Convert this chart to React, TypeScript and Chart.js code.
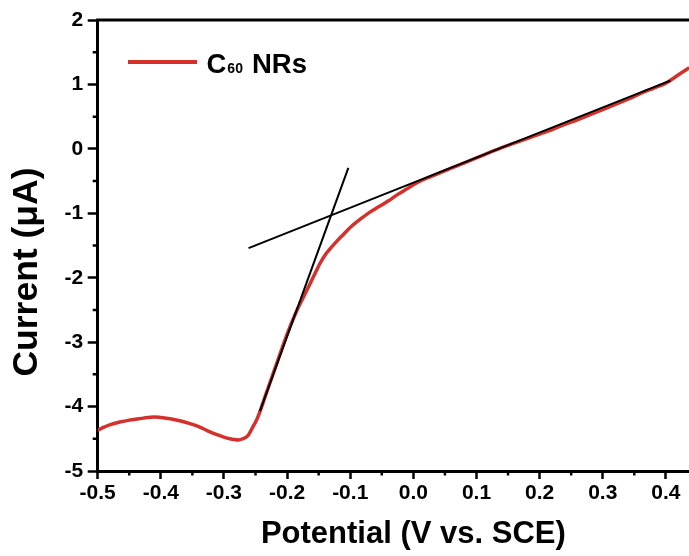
import React, { useEffect, useRef } from 'react';
import { Chart, registerables } from 'chart.js';

Chart.register(...registerables);

// Measured curve (Potential in V vs. SCE, Current in µA)
const potential = [
  -0.5, -0.49, -0.48, -0.465, -0.45, -0.435, -0.42, -0.41, -0.4, -0.385, -0.37, -0.355, -0.34, -0.325,
  -0.31, -0.295, -0.285, -0.277, -0.27, -0.262, -0.255, -0.248, -0.242, -0.235, -0.225, -0.215, -0.205,
  -0.195, -0.185, -0.175, -0.165, -0.155, -0.148, -0.14, -0.13, -0.12, -0.11, -0.1, -0.085, -0.07, -0.055,
  -0.04, -0.025, -0.01, 0.005, 0.02, 0.04, 0.06, 0.08, 0.1, 0.12, 0.14, 0.16, 0.18, 0.2, 0.22, 0.24, 0.26,
  0.28, 0.3, 0.32, 0.34, 0.36, 0.38, 0.4, 0.42, 0.437,
];
const current = [
  -4.37, -4.32, -4.28, -4.24, -4.21, -4.19, -4.17, -4.16, -4.17, -4.19, -4.22, -4.26, -4.31, -4.38,
  -4.44, -4.49, -4.51, -4.52, -4.5, -4.45, -4.33, -4.2, -4.05, -3.85, -3.57, -3.29, -3.01,
  -2.75, -2.52, -2.32, -2.12, -1.92, -1.78, -1.65, -1.53, -1.42, -1.32, -1.22, -1.1, -0.99, -0.9,
  -0.81, -0.71, -0.62, -0.53, -0.46, -0.38, -0.3, -0.22, -0.14, -0.06, 0.02, 0.09, 0.16, 0.23, 0.3, 0.38, 0.45,
  0.53, 0.61, 0.69, 0.77, 0.86, 0.94, 1.02, 1.15, 1.26,
];

// Tangent lines
const steepTangentX = [-0.243, -0.103];
const steepTangentY = [-4.07, -0.295];
const shallowTangentX = [-0.261, 0.407];
const shallowTangentY = [-1.54, 1.06];

// Axes
const xTicks = [-0.5, -0.4, -0.3, -0.2, -0.1, 0.0, 0.1, 0.2, 0.3, 0.4];
const xMinorTicks = [-0.45, -0.35, -0.25, -0.15, -0.05, 0.05, 0.15, 0.25, 0.35, 0.45];
const yTicks = [-5, -4, -3, -2, -1, 0, 1, 2];
const yMinorTicks = [-4.5, -3.5, -2.5, -1.5, -0.5, 0.5, 1.5];

const xTitle = 'Potential (V vs. SCE)';
const yTitle = 'Current (\u03BCA)';
const legendMain = 'C';
const legendSub = '60';
const legendRest = 'NRs';

const RED = '#d3312b';
const FONT = "'Liberation Sans', Arial, Helvetica, sans-serif";

const toPoints = (xs: number[], ys: number[]) => xs.map((x, i) => ({ x, y: ys[i] }));

const decorPlugin = {
  id: 'decor',
  afterDraw(chart: any) {
    const { ctx, chartArea, scales } = chart;
    const { left, right, top, bottom } = chartArea;
    ctx.save();
    // frame top / right
    ctx.strokeStyle = '#000';
    ctx.lineWidth = 3;
    ctx.beginPath();
    ctx.moveTo(left - 1.5, top);
    ctx.lineTo(right, top);
    ctx.moveTo(right, top);
    ctx.lineTo(right, bottom);
    ctx.stroke();

    // minor ticks
    ctx.lineWidth = 2.5;
    ctx.beginPath();
    for (const v of xMinorTicks) {
      const px = scales.x.getPixelForValue(v);
      ctx.moveTo(px, bottom);
      ctx.lineTo(px, bottom + 4.5);
    }
    for (const v of yMinorTicks) {
      const py = scales.y.getPixelForValue(v);
      ctx.moveTo(left, py);
      ctx.lineTo(left - 5, py);
    }
    ctx.stroke();

    // y title
    ctx.fillStyle = '#000';
    ctx.font = `bold 35.5px ${FONT}`;
    ctx.textAlign = 'center';
    ctx.textBaseline = 'middle';
    ctx.translate(27, 272);
    ctx.rotate(-Math.PI / 2);
    ctx.fillText(yTitle, 0, 0);
    ctx.setTransform(1, 0, 0, 1, 0, 0);

    // legend
    ctx.strokeStyle = RED;
    ctx.lineWidth = 4;
    ctx.beginPath();
    ctx.moveTo(128, 62);
    ctx.lineTo(197, 62);
    ctx.stroke();
    ctx.fillStyle = '#000';
    ctx.textAlign = 'left';
    ctx.textBaseline = 'alphabetic';
    let x = 206.5;
    ctx.font = `bold 27.5px ${FONT}`;
    ctx.fillText(legendMain, x, 73);
    x += ctx.measureText(legendMain).width + 1;
    ctx.font = `bold 14px ${FONT}`;
    ctx.fillText(legendSub, x, 72.5);
    x += ctx.measureText(legendSub).width + 9;
    ctx.font = `bold 27.5px ${FONT}`;
    ctx.fillText(legendRest, x, 73);
    ctx.restore();
  },
};

export default function App() {
  const ref = useRef<HTMLCanvasElement | null>(null);
  useEffect(() => {
    if (!ref.current) return;
    Chart.defaults.font.family = FONT;
    const chart = new Chart(ref.current, {
      type: 'scatter',
      data: {
        datasets: [
          {
            label: 'steep tangent',
            data: toPoints(steepTangentX, steepTangentY),
            showLine: true,
            borderColor: '#000',
            borderWidth: 2,
            pointRadius: 0,
            order: 0,
          },
          {
            label: 'shallow tangent',
            data: toPoints(shallowTangentX, shallowTangentY),
            showLine: true,
            borderColor: '#000',
            borderWidth: 2,
            pointRadius: 0,
            order: 0,
          },
          {
            label: 'C60 NRs',
            data: toPoints(potential, current),
            showLine: true,
            borderColor: RED,
            borderWidth: 3.5,
            pointRadius: 0,
            cubicInterpolationMode: 'monotone',
            order: 1,
          },
        ],
      },
      options: {
        animation: false,
        responsive: false,
        devicePixelRatio: 1,
        layout: { padding: { top: 20, left: 0, right: 0, bottom: 0 } },
        plugins: { legend: { display: false }, tooltip: { enabled: false }, title: { display: false } },
        scales: {
          x: {
            type: 'linear',
            min: -0.5,
            max: 0.5,
            afterBuildTicks: (s: any) => {
              s.ticks = xTicks.map((v) => ({ value: v }));
            },
            afterFit: (s: any) => {
              s.height = 85;
            },
            ticks: {
              color: '#000',
              font: { size: 21, weight: 'bold' },
              padding: 1.5,
              maxRotation: 0,
              autoSkip: false,
              callback: (v: any) => Number(v).toFixed(1),
            },
            grid: { drawOnChartArea: false, drawTicks: true, tickLength: 8, tickWidth: 2.5, tickColor: '#000' },
            border: { display: true, color: '#000', width: 3 },
            title: {
              display: true,
              text: xTitle,
              color: '#000',
              font: { size: 31, weight: 'bold' },
              padding: { top: 0, bottom: 3 },
            },
          },
          y: {
            type: 'linear',
            min: -5,
            max: 2,
            afterBuildTicks: (s: any) => {
              s.ticks = yTicks.map((v) => ({ value: v }));
            },
            afterFit: (s: any) => {
              s.width = 97.7;
            },
            ticks: {
              color: '#000',
              font: { size: 21, weight: 'bold' },
              padding: 4.5,
              autoSkip: false,
              callback: (v: any) => String(v),
            },
            grid: { drawOnChartArea: false, drawTicks: true, tickLength: 10, tickWidth: 2.5, tickColor: '#000' },
            border: { display: true, color: '#000', width: 3 },
          },
        },
      } as any,
      plugins: [decorPlugin],
    });
    return () => chart.destroy();
  }, []);

  return (
    <div
      style={{
        position: 'fixed',
        left: 0,
        top: 0,
        width: 689,
        height: 556,
        overflow: 'hidden',
        background: '#fff',
      }}
    >
      <canvas ref={ref} width={729} height={556} style={{ width: 729, height: 556, display: 'block' }} />
    </div>
  );
}
